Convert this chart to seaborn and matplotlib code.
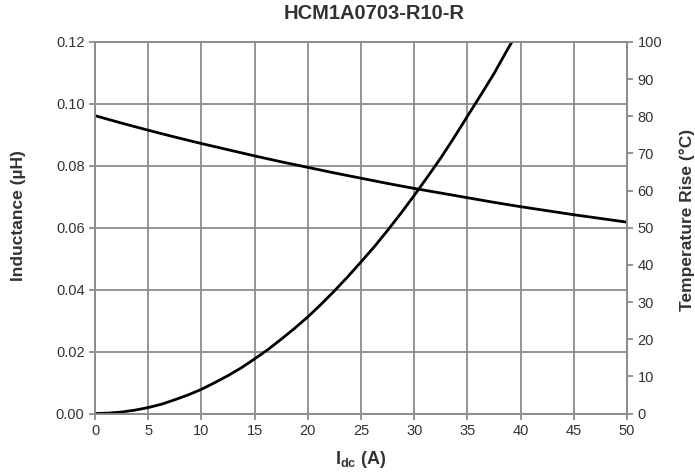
import numpy as np
import pandas as pd
import matplotlib
matplotlib.use("Agg")
import matplotlib.pyplot as plt
import seaborn as sns

# Data
current_a = [0, 2.5, 5, 7.5, 10, 12.5, 15, 17.5, 20, 22.5, 25,
             27.5, 30, 32.5, 35, 37.5, 40, 42.5, 45, 47.5, 50]
inductance_uh = [0.0962, 0.0938, 0.0915, 0.0893, 0.0872, 0.0852, 0.0832,
                 0.0813, 0.0795, 0.0777, 0.0760, 0.0743, 0.0727, 0.0712,
                 0.0697, 0.0682, 0.0668, 0.0655, 0.0642, 0.0630, 0.0618]
temp_current_a = [0, 1.25, 2.5, 3.75, 5, 6.25, 7.5, 8.75, 10, 11.25, 12.5,
                  13.75, 15, 16.25, 17.5, 18.75, 20, 21.25, 22.5, 23.75, 25,
                  26.25, 27.5, 28.75, 30, 31.25, 32.5, 33.75, 35, 36.25,
                  37.5, 38.75, 40]
temp_rise_c = [0, 0.1, 0.4, 0.9, 1.6, 2.5, 3.7, 5.0, 6.5, 8.3, 10.2,
               12.3, 14.7, 17.2, 20.0, 22.9, 26.0, 29.4, 33.0, 36.8, 40.8,
               44.9, 49.3, 53.9, 58.7, 63.7, 68.8, 74.3, 80.0, 85.7,
               91.5, 97.9, 104.0]

df_l = pd.DataFrame({'I': current_a, 'L': inductance_uh})
df_t = pd.DataFrame({'I': temp_current_a, 'T': temp_rise_c})

sns.set_style('white')
plt.rcParams['font.family'] = ['Liberation Sans', 'DejaVu Sans']
plt.rcParams['mathtext.fontset'] = 'custom'
plt.rcParams['mathtext.rm'] = 'Liberation Sans:bold'
plt.rcParams['mathtext.it'] = 'Liberation Sans:bold'
plt.rcParams['mathtext.bf'] = 'Liberation Sans:bold'

grid_col = '#8c8c8c'
text_col = '#333333'

fig = plt.figure(figsize=(6.95, 4.76), dpi=100)
ax = fig.add_axes([0.1367, 0.1313, 0.7655, 0.7805])
ax2 = ax.twinx()

sns.lineplot(data=df_l, x='I', y='L', ax=ax, color='black', lw=2.0,
             estimator=None, sort=False)
sns.lineplot(data=df_t, x='I', y='T', ax=ax2, color='black', lw=2.0,
             estimator=None, sort=False)

ax.set_xlim(0, 50)
ax.set_ylim(0, 0.12)
ax2.set_ylim(0, 100)
ax.set_xticks(np.arange(0, 51, 5))
ax.set_yticks(np.arange(0, 0.121, 0.02))
ax.set_yticklabels([f'{v:.2f}' for v in np.arange(0, 0.121, 0.02)])
ax2.set_yticks(np.arange(0, 101, 10))

ax.grid(True, color=grid_col, lw=1.3)
ax.set_axisbelow(True)
ax2.grid(False)

for a in (ax, ax2):
    for s in a.spines.values():
        s.set_color(grid_col)
        s.set_linewidth(1.3)
    a.tick_params(colors=grid_col, labelcolor=text_col, labelsize=10.5,
                  length=4.5, width=1.3, pad=3)
ax.tick_params(axis='both', direction='out', left=True, bottom=True)
ax2.tick_params(axis='y', direction='out', right=True)

ax.set_xlabel(r'I$_{dc}$ (A)', fontsize=13, fontweight='bold', color=text_col)
ax.set_ylabel('Inductance (µH)', fontsize=12.5, fontweight='bold',
              color=text_col)
ax2.set_ylabel('Temperature Rise (°C)', fontsize=12.5, fontweight='bold',
               color=text_col)
ax.xaxis.set_label_coords(0.499, -0.125)
ax.yaxis.set_label_coords(-0.143, 0.532)
ax2.yaxis.set_label_coords(1.113, 0.521)
for lab in (ax.xaxis.label, ax.yaxis.label, ax2.yaxis.label):
    lab.set_va('center')

fig.text(0.539, 0.971, 'HCM1A0703-R10-R', fontsize=14.5, fontweight='bold',
         color=text_col, ha='center', va='center')

fig.savefig('out.png', dpi=100)
